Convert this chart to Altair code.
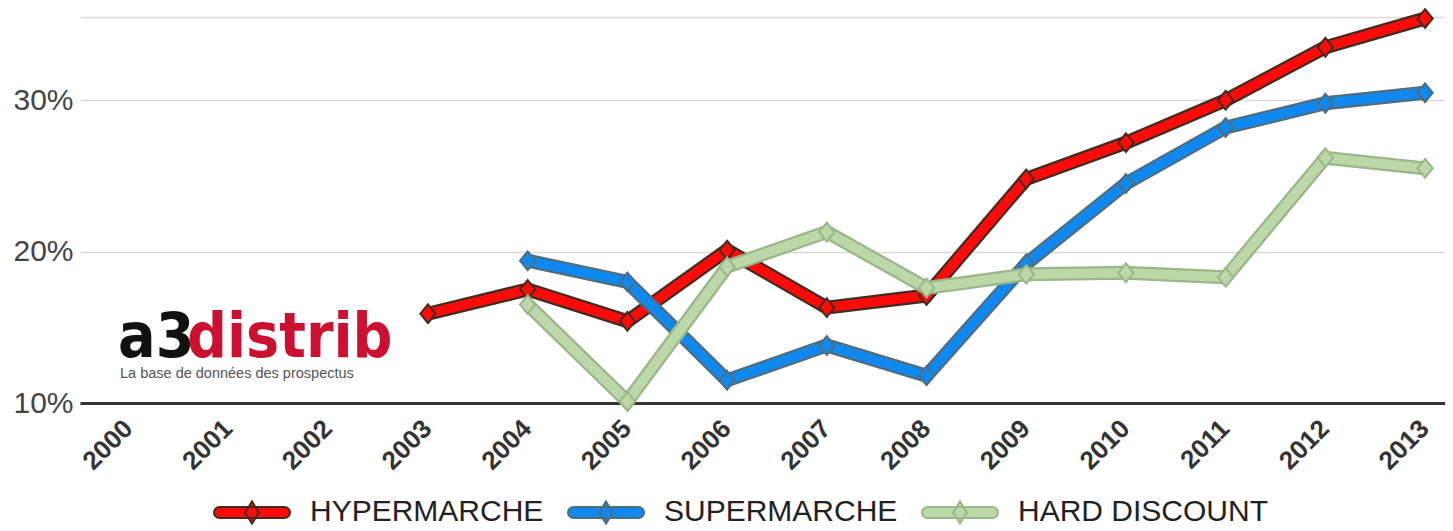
import altair as alt
import pandas as pd

# ---- data ----
years = list(range(2000, 2014))
series_names = ["HYPERMARCHE", "SUPERMARCHE", "HARD DISCOUNT"]
hyper_vals = [None, None, None, 15.9, 17.5, 15.4, 20.1, 16.3, 17.1, 24.8, 27.2, 30.0, 33.5, 35.4]
super_vals = [None, None, None, None, 19.4, 18.0, 11.5, 13.8, 11.8, 19.2, 24.5, 28.2, 29.8, 30.5]
hard_vals = [None, None, None, None, 16.5, 10.1, 19.0, 21.3, 17.6, 18.5, 18.6, 18.3, 26.2, 25.5]
y_tick_values = [10, 20, 30, 35.5]
logo_main = ["a3", "distrib"]
logo_sub = ["La base de données des prospectus"]

# ---- styles ----
fill_colors = ["#ff0a0a", "#0f88f0", "#bcd7a8"]
edge_colors = ["#452a1e", "#4f6d7c", "#9bb688"]

rows = []
for name, vals in zip(series_names, [hyper_vals, super_vals, hard_vals]):
    for yr, v in zip(years, vals):
        if v is not None:
            rows.append({"year": yr, "value": v, "serie": name})
df = pd.DataFrame(rows)

x_enc = alt.X("year:Q",
              scale=alt.Scale(domain=[1999.51, 2013.2], nice=False, zero=False),
              axis=alt.Axis(values=years, format="d", title=None, labelAngle=-45,
                            labelFontSize=26, labelFontWeight="bold", labelColor="#333333",
                            labelFont="Liberation Sans", labelPadding=12, labelOffset=-10,
                            ticks=False, grid=False, domainColor="#333333", domainWidth=3,
                            labelOverlap=False, labelFlush=False))
y_enc = alt.Y("value:Q",
              scale=alt.Scale(domain=[10, 35.5], nice=False, zero=False),
              axis=alt.Axis(values=y_tick_values, title=None,
                            labelExpr="datum.value > 31 ? '' : datum.value + '%'",
                            labelFontSize=30, labelColor="#444444", labelFont="Liberation Sans",
                            labelPadding=7, ticks=False, domain=False,
                            gridColor="#d9d9d9", gridWidth=1.5))

legend_path = ("M-0.855,-0.145 L0.855,-0.145 A0.145,0.145 0 0 1 0.855,0.145 "
               "L-0.855,0.145 A0.145,0.145 0 0 1 -0.855,-0.145 Z "
               "M0,-0.29 L0.18,0 L0,0.29 L-0.18,0 Z")
marker_path = "M0,-1.1 L0.9,0 L0,1.1 L-0.9,0 Z"

legend = alt.Legend(title=None, orient="none", direction="horizontal",
                    legendX=133, legendY=456, symbolType=legend_path,
                    symbolSize=5776, symbolStrokeWidth=2, labelFontSize=30,
                    labelFont="Liberation Sans", labelColor="#222222",
                    labelOffset=19, columnPadding=20, padding=0, labelLimit=400)

base = alt.Chart(df)
layers = []
for i, name in enumerate(series_names):
    sub = base.transform_filter(alt.datum.serie == name)
    layers.append(sub.mark_line(strokeWidth=14, strokeJoin="miter", strokeCap="butt")
                  .encode(x=x_enc, y=y_enc, stroke=alt.value(edge_colors[i])))
    layers.append(sub.mark_line(strokeWidth=9.5, strokeJoin="miter", strokeCap="butt")
                  .encode(x=x_enc, y=y_enc, stroke=alt.value(fill_colors[i])))
    layers.append(sub.mark_point(shape=marker_path, size=290, filled=True, opacity=1,
                                 strokeWidth=2, strokeOpacity=1)
                  .encode(x=x_enc, y=y_enc,
                          fill=alt.Fill("serie:N", scale=alt.Scale(domain=series_names, range=fill_colors),
                                        legend=legend),
                          stroke=alt.Stroke("serie:N", scale=alt.Scale(domain=series_names, range=edge_colors),
                                            legend=legend)))

# logo (text)
logo_a3 = alt.Chart(pd.DataFrame({"t": [logo_main[0]]})).mark_text(
    align="left", baseline="alphabetic", font="DejaVu Sans Condensed", fontWeight="bold",
    fontSize=62, color="#111111").encode(text="t:N", x=alt.value(38), y=alt.value(340))
logo_distrib = alt.Chart(pd.DataFrame({"t": [logo_main[1]]})).mark_text(
    align="left", baseline="alphabetic", font="DejaVu Sans Condensed", fontWeight="bold",
    fontSize=62, color="#cc1030").encode(text="t:N", x=alt.value(107), y=alt.value(340))
logo_s = alt.Chart(pd.DataFrame({"t": logo_sub})).mark_text(
    align="left", baseline="alphabetic", font="Liberation Sans",
    fontSize=14.5, color="#555555").encode(text="t:N", x=alt.value(40), y=alt.value(361))

chart = alt.layer(*layers, logo_a3, logo_distrib, logo_s).properties(
    width=1365, height=386,
    autosize=alt.AutoSizeParams(type="none"),
    padding={"left": 72, "top": 9, "right": 0, "bottom": 128},
).configure_view(stroke=None).resolve_scale(fill="shared", stroke="shared")

chart.save("out.html", embed_options={"renderer": "svg", "actions": False})
